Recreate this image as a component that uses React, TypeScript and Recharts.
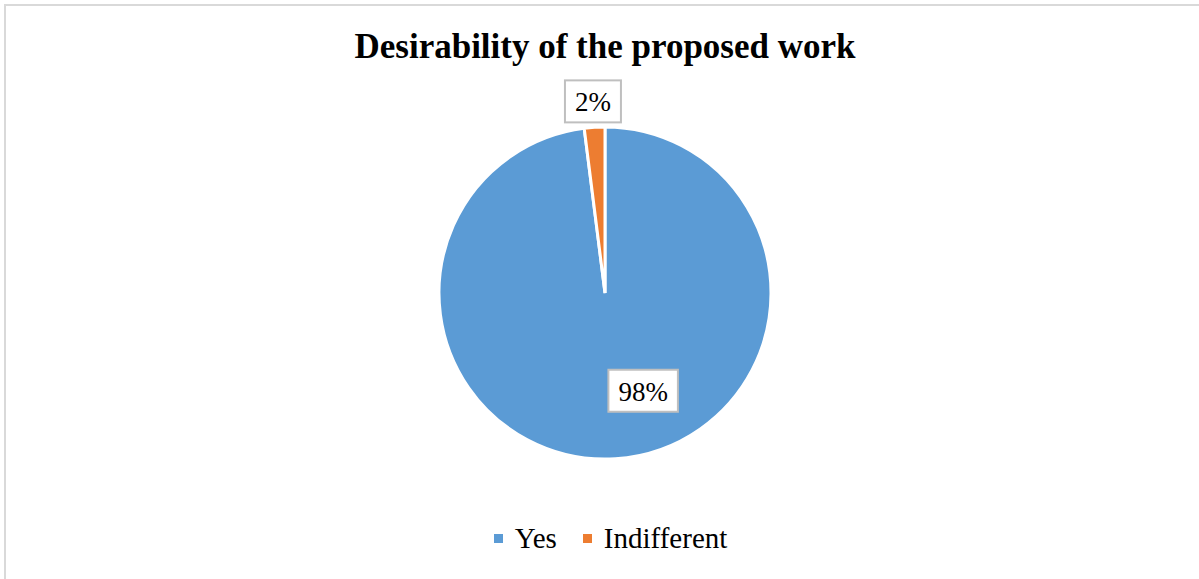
import React from 'react';
import { PieChart, Pie, Cell, Legend } from 'recharts';

const categories = ['Yes', 'Indifferent'];
const shares = [98, 2];
const colors = ['#5B9BD5', '#ED7D31'];

const data = categories.map((name, i) => ({ name, value: shares[i] }));

const FONT = '"Liberation Serif", "Times New Roman", serif';
const RAD = Math.PI / 180;

// rough Times glyph widths, em units
const textWidth = (s: string, size: number) =>
  s.split('').reduce((w, c) => w + (c === '%' ? 0.833 : 0.5), 0) * size;

function BoxLabel(props: any) {
  const { cx, cy, midAngle, outerRadius, percent } = props;
  const text = `${Math.round(percent * 100)}%`;
  const big = percent > 0.5;
  const r = big ? outerRadius * 0.59 : outerRadius + 26;
  let x = cx + r * Math.cos(-midAngle * RAD);
  const y = cy + r * Math.sin(-midAngle * RAD);
  if (big) x += 32;
  const w = textWidth(text, 27) + 20;
  const h = 42;
  return (
    <g>
      <rect
        x={x - w / 2}
        y={y - h / 2}
        width={w}
        height={h}
        fill="#fff"
        stroke="#BFBFBF"
        strokeWidth={2}
      />
      <text
        x={x}
        y={y + 1}
        textAnchor="middle"
        dominantBaseline="central"
        fontFamily={FONT}
        fontSize={27}
        fill="#000"
      >
        {text}
      </text>
    </g>
  );
}

function LegendBox({ payload }: any) {
  const items = categories.map((c) => (payload || []).find((p: any) => p.value === c)).filter(Boolean);
  return (
    <div
      style={{
        display: 'flex',
        justifyContent: 'center',
        alignItems: 'center',
        paddingLeft: 22,
        fontFamily: FONT,
        fontSize: 29,
        color: '#000',
      }}
    >
      {items.map((p: any, i: number) => (
        <div key={i} style={{ display: 'flex', alignItems: 'center', marginRight: i === 0 ? 26 : 0 }}>
          <span style={{ width: 9, height: 9, background: p.color, marginRight: 12, display: 'inline-block' }} />
          <span>{p.value}</span>
        </div>
      ))}
    </div>
  );
}

export default function App() {
  return (
    <div style={{ position: 'absolute', left: 0, top: 0, width: 1199, height: 579, background: '#fff', overflow: 'hidden' }}>
      <div
        style={{
          position: 'absolute',
          left: 4,
          top: 4,
          width: 1210,
          height: 590,
          border: '2px solid #D9D9D9',
          boxSizing: 'border-box',
        }}
      />
      <div
        style={{
          position: 'absolute',
          left: 0,
          top: 29,
          width: 1210,
          textAlign: 'center',
          fontFamily: FONT,
          fontWeight: 'bold',
          fontSize: 35,
          lineHeight: '35px',
          color: '#000',
        }}
      >
        Desirability of the proposed work
      </div>
      <PieChart
        width={1199}
        height={579}
        margin={{ top: 0, right: 0, bottom: 0, left: 0 }}
        style={{ position: 'absolute', left: 0, top: 0 }}
      >
        <Pie
          data={data}
          dataKey="value"
          nameKey="name"
          cx={605}
          cy={293}
          outerRadius={166}
          startAngle={90}
          endAngle={-270}
          stroke="#fff"
          strokeWidth={3}
          label={BoxLabel}
          labelLine={false}
          isAnimationActive={false}
        >
          {data.map((d, i) => (
            <Cell key={d.name} fill={colors[i]} />
          ))}
        </Pie>
        <Legend
          content={<LegendBox />}
          wrapperStyle={{ position: 'absolute', top: 522, left: 0, width: 1199 }}
        />
      </PieChart>
    </div>
  );
}
